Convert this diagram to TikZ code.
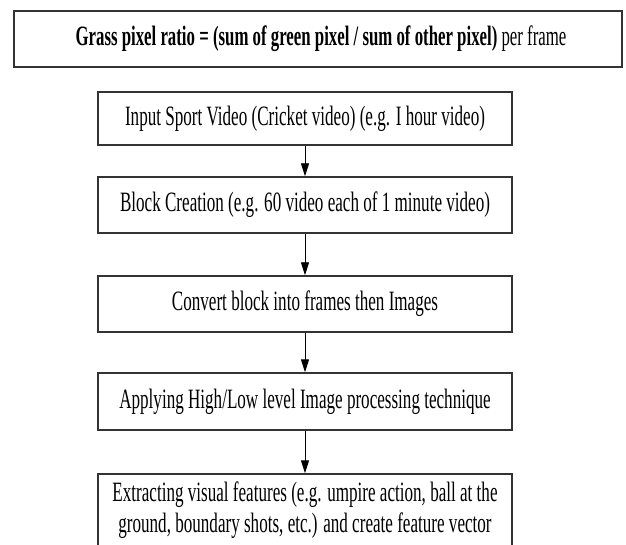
\documentclass[tikz,border=0pt]{standalone}
\usepackage{fontspec}
\setmainfont{Liberation Serif}
\usepackage{graphicx}
\usetikzlibrary{arrows.meta}
\newcommand\sq[1]{\scalebox{0.61}[1]{#1}}
\newcommand\sqtop[1]{\scalebox{0.60}[1]{#1}}
\tikzset{
  box/.style={draw=black!80, line width=1.4pt, rectangle, inner sep=0pt,
    minimum width=414pt, font=\fontsize{28}{31}\selectfont},
  arr/.style={draw=black, line width=0.9pt, -{Triangle[width=8pt,length=13pt]}}
}
\begin{document}
\begin{tikzpicture}[x=1pt,y=1pt]
\useasboundingbox (0,0) rectangle (626,-545);
\fill[white] (0,0) rectangle (626,-545);
\node[box, minimum width=608pt, minimum height=56pt] (top) at (318,-39)
  {\hspace{6pt}\sqtop{\textbf{Grass pixel ratio = (sum of green pixel / sum of other pixel)} per frame}};
\node[box, minimum height=53pt] (input) at (305,-118.5)
  {\sq{Input Sport Video (Cricket video) (e.g. I hour video)}};
\node[box, minimum height=56pt] (block) at (305,-205)
  {\sq{Block Creation (e.g. 60 video each of 1 minute video)}};
\node[box, minimum height=56pt] (convert) at (305,-304)
  {\sq{Convert block into frames then Images}};
\node[box, minimum height=57pt] (apply) at (305,-401.5)
  {\sq{Applying High/Low level Image processing technique}};
\node[box, minimum height=86pt, text depth=52pt] (extract) at (305,-517)
  {\sq{\begin{tabular}[t]{@{}c@{}}Extracting visual features (e.g. umpire action, ball at the\\ ground, boundary shots, etc.) and create feature vector\end{tabular}}};
\draw[arr] (input) -- (block);
\draw[arr] (block) -- (convert);
\draw[arr] (convert) -- (apply);
\draw[arr] (apply) -- (extract);
\end{tikzpicture}
\end{document}
